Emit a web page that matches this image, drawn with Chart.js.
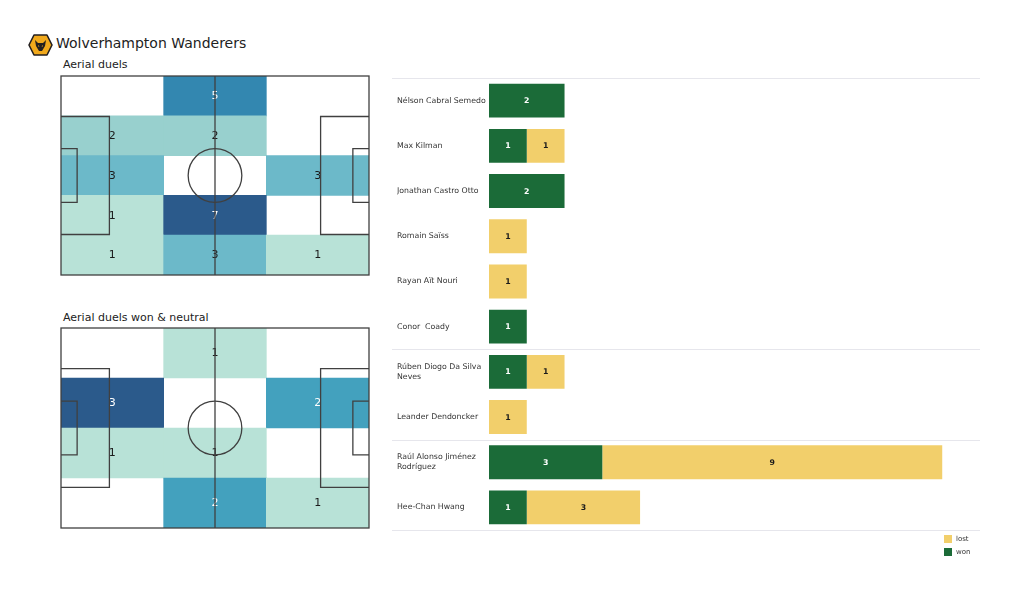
<!DOCTYPE html>
<html>
<head>
<meta charset="utf-8">
<script src="https://cdn.jsdelivr.net/npm/chart.js@4.4.0/dist/chart.umd.min.js"></script>
<style>
body{margin:0;background:#fff;font-family:"DejaVu Sans",sans-serif;color:#222;}
#wrap{position:relative;width:1024px;height:602px;overflow:hidden;}
.abs{position:absolute;}
.ttl{font-size:14px;line-height:14px;white-space:nowrap;}
.sub{font-size:11px;line-height:11px;white-space:nowrap;}
.leg{font-size:7px;line-height:8px;color:#333;white-space:nowrap;}
.leg span{display:inline-block;width:8px;height:8px;vertical-align:top;margin-right:4px;}
</style>
</head>
<body>
<div id="wrap">
  <svg class="abs" style="left:28px;top:34px" width="25" height="22" viewBox="0 0 25 22">
    <path d="M6 1 L19 1 L24 11 L19 21 L6 21 L1 11 Z" fill="#f1a91c" stroke="#231f20" stroke-width="1.6" stroke-linejoin="round"/>
    <path d="M7 6 L10 9 L15 9 L18 6 L17 12 L14 17 L11 17 L8 12 Z" fill="#231f20"/>
    <path d="M10.5 11 L11.5 12.5 L10 12.5 Z M14.5 11 L13.5 12.5 L15 12.5 Z" fill="#f1a91c"/>
  </svg>
  <div class="abs ttl" style="left:56px;top:36px">Wolverhampton Wanderers</div>
  <div class="abs sub" style="left:63px;top:59px">Aerial duels</div>
  <div class="abs sub" style="left:63px;top:312px">Aerial duels won &amp; neutral</div>
  <canvas id="pitch1" class="abs" style="left:59px;top:74px" width="312" height="203"></canvas>
  <canvas id="pitch2" class="abs" style="left:59px;top:326px" width="312" height="204"></canvas>
  <canvas id="duels" class="abs" style="left:392px;top:70px" width="593" height="470"></canvas>
  <div class="abs leg" style="left:944px;top:535px"><span style="background:#f2cf6b"></span>lost</div>
  <div class="abs leg" style="left:944px;top:548px"><span style="background:#1b6b38"></span>won</div>
</div>
<script>
var pitchCols = ['left', 'centre', 'right'];
// rows top to bottom, columns left to right
var aerialAll = [
  [null, 5, null],
  [2, 2, null],
  [3, null, 3],
  [1, 7, null],
  [1, 3, 1]
];
var aerialWon = [
  [null, 1, null],
  [3, null, 2],
  [1, 1, null],
  [null, 2, 1]
];

var players = ['Nélson Cabral Semedo', 'Max Kilman', 'Jonathan Castro Otto', 'Romain Saïss', 'Rayan Aït Nouri',
  'Conor  Coady', ['Rúben Diogo Da Silva', 'Neves'], 'Leander Dendoncker', ['Raúl Alonso Jiménez', 'Rodríguez'], 'Hee-Chan Hwang'];
var duelsWon = [2, 1, 2, 0, 0, 1, 1, 0, 3, 1];
var duelsLost = [0, 1, 0, 1, 1, 0, 1, 1, 9, 3];
var groupBreaks = [0, 6, 8, 10];

var FONT = '"DejaVu Sans", sans-serif';
var PITCH_L = 105, PITCH_W = 68;
var heatStops = [
  [0, [184, 226, 215]], [0.167, [152, 208, 206]], [0.333, [108, 185, 201]],
  [0.5, [67, 161, 190]], [0.667, [51, 135, 176]], [1, [43, 90, 139]]
];

function heatColor(t){
  for (var i = 1; i < heatStops.length; i++){
    if (t <= heatStops[i][0]){
      var a = heatStops[i-1], b = heatStops[i];
      var f = (t - a[0]) / (b[0] - a[0]);
      var c = a[1].map(function(v, k){ return Math.round(v + (b[1][k] - v) * f); });
      return 'rgb(' + c.join(',') + ')';
    }
  }
  return 'rgb(43,90,139)';
}

var pitchLines = {
  id: 'pitchLines',
  afterDatasetsDraw: function(chart){
    var ctx = chart.ctx, xs = chart.scales.x, ys = chart.scales.y;
    var nc = pitchCols.length, nr = ys.max;
    // metres on the pitch -> column / row units of the chart scales
    var X = function(m){ return xs.getPixelForValue(m / PITCH_L * nc - 0.5); };
    var Y = function(m){ return ys.getPixelForValue(m / PITCH_W * nr); };
    var ds = chart.data.datasets[0], lim = ds.lim;
    var meta = chart.getDatasetMeta(0);
    ctx.save();
    ctx.font = '11px ' + FONT;
    ctx.textAlign = 'center';
    ctx.textBaseline = 'middle';
    meta.data.forEach(function(el, i){
      var v = ds.data[i].v;
      var t = (v - lim[0]) / (lim[1] - lim[0] || 1);
      ctx.fillStyle = t >= 0.5 ? '#ffffff' : '#1a1a1a';
      ctx.fillText(String(v), el.x, (el.y + el.base) / 2 + 0.5);
    });
    ctx.strokeStyle = '#404040';
    ctx.lineWidth = 1.3;
    ctx.strokeRect(X(0), Y(0), X(PITCH_L) - X(0), Y(PITCH_W) - Y(0));
    ctx.beginPath();
    ctx.moveTo(X(52.5), Y(0)); ctx.lineTo(X(52.5), Y(PITCH_W));
    ctx.stroke();
    ctx.beginPath();
    ctx.arc(X(52.5), Y(34), X(9.15) - X(0), 0, Math.PI * 2);
    ctx.stroke();
    [[0, 16.5, 40.32], [0, 5.5, 18.32], [PITCH_L, -16.5, 40.32], [PITCH_L, -5.5, 18.32]].forEach(function(b){
      var y0 = 34 - b[2] / 2, y1 = 34 + b[2] / 2;
      ctx.beginPath();
      ctx.moveTo(X(b[0]), Y(y0));
      ctx.lineTo(X(b[0] + b[1]), Y(y0));
      ctx.lineTo(X(b[0] + b[1]), Y(y1));
      ctx.lineTo(X(b[0]), Y(y1));
      ctx.stroke();
    });
    ctx.restore();
  }
};

function heatmap(id, grid){
  var cells = [], vals = [];
  grid.forEach(function(row, r){
    row.forEach(function(v, c){
      if (v !== null){ cells.push({x: pitchCols[c], y: [r, r + 1], v: v}); vals.push(v); }
    });
  });
  var lim = [Math.min.apply(null, vals), Math.max.apply(null, vals)];
  return new Chart(document.getElementById(id), {
    type: 'bar',
    data: {
      labels: pitchCols,
      datasets: [{
        data: cells,
        lim: lim,
        barPercentage: 1,
        categoryPercentage: 1,
        borderWidth: 0,
        backgroundColor: function(c){
          var v = c.raw ? c.raw.v : lim[0];
          return heatColor((v - lim[0]) / (lim[1] - lim[0] || 1));
        }
      }]
    },
    options: {
      responsive: false,
      animation: false,
      layout: {padding: 2},
      plugins: {legend: {display: false}, tooltip: {enabled: false}},
      scales: {
        x: {type: 'category', display: false},
        y: {type: 'linear', display: false, min: 0, max: grid.length, reverse: true}
      }
    },
    plugins: [pitchLines]
  });
}

heatmap('pitch1', aerialAll);
heatmap('pitch2', aerialWon);

var groupLines = {
  id: 'groupLines',
  beforeDatasetsDraw: function(chart){
    var ctx = chart.ctx, y = chart.scales.y, n = players.length;
    var half = (y.getPixelForValue(1) - y.getPixelForValue(0)) / 2;
    ctx.save();
    ctx.strokeStyle = '#e6e6ec';
    ctx.lineWidth = 1;
    groupBreaks.forEach(function(b){
      var py = b < n ? y.getPixelForValue(b) - half : y.getPixelForValue(n - 1) + half;
      py = Math.round(py) + 0.5;
      ctx.beginPath();
      ctx.moveTo(0, py);
      ctx.lineTo(chart.chartArea.right, py);
      ctx.stroke();
    });
    ctx.restore();
  }
};

var barValues = {
  id: 'barValues',
  afterDatasetsDraw: function(chart){
    var ctx = chart.ctx;
    ctx.save();
    ctx.font = 'bold 7.8px ' + FONT;
    ctx.textAlign = 'center';
    ctx.textBaseline = 'middle';
    chart.data.datasets.forEach(function(ds, d){
      chart.getDatasetMeta(d).data.forEach(function(el, i){
        if (!ds.data[i]) return;
        ctx.fillStyle = ds.labelColor;
        ctx.fillText(String(ds.data[i]), (el.x + el.base) / 2, el.y + 0.5);
      });
    });
    ctx.restore();
  }
};

new Chart(document.getElementById('duels'), {
  type: 'bar',
  data: {
    labels: players,
    datasets: [{
      label: 'won',
      data: duelsWon,
      backgroundColor: '#1b6b38',
      labelColor: '#ffffff',
      barPercentage: 0.75,
      categoryPercentage: 1,
      borderWidth: 0
    }, {
      label: 'lost',
      data: duelsLost,
      backgroundColor: '#f2cf6b',
      labelColor: '#1a1a1a',
      barPercentage: 0.75,
      categoryPercentage: 1,
      borderWidth: 0
    }]
  },
  options: {
    indexAxis: 'y',
    responsive: false,
    animation: false,
    layout: {padding: {left: 5, right: 5, top: 8, bottom: 10}},
    plugins: {legend: {display: false}, tooltip: {enabled: false}},
    scales: {
      x: {type: 'linear', stacked: true, display: false, min: 0, max: 13},
      y: {
        type: 'category',
        stacked: true,
        grid: {display: false},
        border: {display: false},
        afterFit: function(s){ s.width = 92; },
        ticks: {autoSkip: false, crossAlign: 'far', color: '#333', font: {family: FONT, size: 7.8, lineHeight: 1.3}}
      }
    }
  },
  plugins: [groupLines, barValues]
});
</script>
</body>
</html>
